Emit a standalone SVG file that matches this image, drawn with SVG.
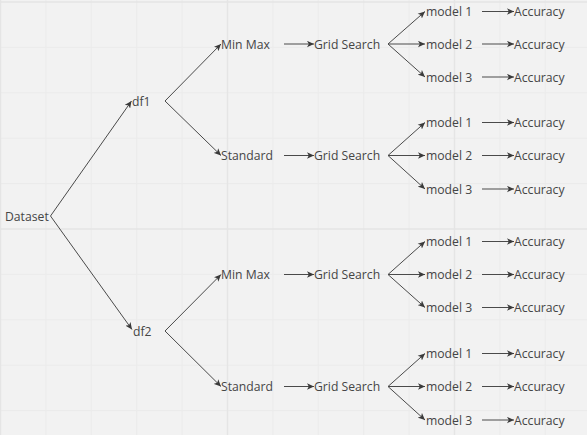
<svg xmlns="http://www.w3.org/2000/svg" width="587" height="435" viewBox="0 0 587 435">
<style>
.minor{stroke:#ebebeb;stroke-width:1}
.major{stroke:#e5e5e5;stroke-width:1.5}
text{font-family:"Open Sans","Noto Sans","Liberation Sans",sans-serif;font-size:12.2px;fill:#454545}
.c{fill:none;stroke:#4a4a4a;stroke-width:1;marker-end:url(#ah)}
</style>
<defs>
<marker id="ah" markerUnits="userSpaceOnUse" markerWidth="8" markerHeight="7" refX="7" refY="3.5" orient="auto">
<path d="M0,0.3 L7,3.5 L0,6.7 L1.8,3.5 Z" fill="#3a3a3a"/>
</marker>
</defs>
<rect width="587" height="435" fill="#f2f2f2"/>
<g id="grid">
<line class="minor" x1="45.9" y1="0" x2="45.9" y2="435"/>
<line class="minor" x1="91.3" y1="0" x2="91.3" y2="435"/>
<line class="minor" x1="136.7" y1="0" x2="136.7" y2="435"/>
<line class="minor" x1="182.1" y1="0" x2="182.1" y2="435"/>
<line class="minor" x1="272.9" y1="0" x2="272.9" y2="435"/>
<line class="minor" x1="318.3" y1="0" x2="318.3" y2="435"/>
<line class="minor" x1="363.7" y1="0" x2="363.7" y2="435"/>
<line class="minor" x1="409.1" y1="0" x2="409.1" y2="435"/>
<line class="minor" x1="499.9" y1="0" x2="499.9" y2="435"/>
<line class="minor" x1="545.3" y1="0" x2="545.3" y2="435"/>
<line class="minor" x1="0" y1="47.4" x2="587" y2="47.4"/>
<line class="minor" x1="0" y1="92.8" x2="587" y2="92.8"/>
<line class="minor" x1="0" y1="138.2" x2="587" y2="138.2"/>
<line class="minor" x1="0" y1="183.6" x2="587" y2="183.6"/>
<line class="minor" x1="0" y1="274.4" x2="587" y2="274.4"/>
<line class="minor" x1="0" y1="319.8" x2="587" y2="319.8"/>
<line class="minor" x1="0" y1="365.2" x2="587" y2="365.2"/>
<line class="minor" x1="0" y1="410.6" x2="587" y2="410.6"/>
<line class="major" x1="0.5" y1="0" x2="0.5" y2="435"/>
<line class="major" x1="227.5" y1="0" x2="227.5" y2="435"/>
<line class="major" x1="454.5" y1="0" x2="454.5" y2="435"/>
<line class="major" x1="0" y1="2" x2="587" y2="2"/>
<line class="major" x1="0" y1="229" x2="587" y2="229"/>
</g>
<g id="connectors">
<line class="c" x1="50.5" y1="216" x2="131.5" y2="101"/>
<line class="c" x1="50.5" y1="216" x2="132" y2="329.5"/>
<line class="c" x1="165" y1="101" x2="221" y2="44"/>
<line class="c" x1="165" y1="101" x2="221" y2="155.5"/>
<line class="c" x1="165" y1="331" x2="221" y2="274.5"/>
<line class="c" x1="165" y1="331" x2="221" y2="386.5"/>
<line class="c" x1="284" y1="44" x2="314" y2="44"/>
<line class="c" x1="284" y1="155.5" x2="314" y2="155.5"/>
<line class="c" x1="284" y1="274.5" x2="314" y2="274.5"/>
<line class="c" x1="284" y1="386.5" x2="314" y2="386.5"/>
<line class="c" x1="388" y1="44" x2="425" y2="11.5"/>
<line class="c" x1="388" y1="44" x2="425" y2="44"/>
<line class="c" x1="388" y1="44" x2="425" y2="77"/>
<line class="c" x1="388" y1="155.5" x2="425" y2="122.5"/>
<line class="c" x1="388" y1="155.5" x2="425" y2="155.5"/>
<line class="c" x1="388" y1="155.5" x2="425" y2="189"/>
<line class="c" x1="388" y1="274.5" x2="425" y2="241.5"/>
<line class="c" x1="388" y1="274.5" x2="425" y2="274.5"/>
<line class="c" x1="388" y1="274.5" x2="425" y2="307.5"/>
<line class="c" x1="388" y1="386.5" x2="425" y2="353.5"/>
<line class="c" x1="388" y1="386.5" x2="425" y2="386.5"/>
<line class="c" x1="388" y1="386.5" x2="425" y2="420"/>
<line class="c" x1="482" y1="11.5" x2="514" y2="11.5"/>
<line class="c" x1="482" y1="44" x2="514" y2="44"/>
<line class="c" x1="482" y1="77" x2="514" y2="77"/>
<line class="c" x1="482" y1="122.5" x2="514" y2="122.5"/>
<line class="c" x1="482" y1="155.5" x2="514" y2="155.5"/>
<line class="c" x1="482" y1="189" x2="514" y2="189"/>
<line class="c" x1="482" y1="241.5" x2="514" y2="241.5"/>
<line class="c" x1="482" y1="274.5" x2="514" y2="274.5"/>
<line class="c" x1="482" y1="307.5" x2="514" y2="307.5"/>
<line class="c" x1="482" y1="353.5" x2="514" y2="353.5"/>
<line class="c" x1="482" y1="386.5" x2="514" y2="386.5"/>
<line class="c" x1="482" y1="420" x2="514" y2="420"/>
</g>
<g id="dataset"><text x="5" y="220.5">Dataset</text></g>
<g id="df1"><text x="132" y="105.5">df1</text></g>
<g id="df2"><text x="133" y="335.5">df2</text></g>
<g id="minmax1"><text x="221" y="48.5">Min Max</text></g>
<g id="standard1"><text x="221" y="160">Standard</text></g>
<g id="minmax2"><text x="221" y="279">Min Max</text></g>
<g id="standard2"><text x="221" y="391">Standard</text></g>
<g id="grid1"><text x="314" y="48.5">Grid Search</text></g>
<g id="grid2"><text x="314" y="160">Grid Search</text></g>
<g id="grid3"><text x="314" y="279">Grid Search</text></g>
<g id="grid4"><text x="314" y="391">Grid Search</text></g>
<g id="m1a"><text x="426" y="16">model 1</text></g>
<g id="m2a"><text x="426" y="48.5">model 2</text></g>
<g id="m3a"><text x="426" y="81.5">model 3</text></g>
<g id="m1b"><text x="426" y="127">model 1</text></g>
<g id="m2b"><text x="426" y="160">model 2</text></g>
<g id="m3b"><text x="426" y="193.5">model 3</text></g>
<g id="m1c"><text x="426" y="246">model 1</text></g>
<g id="m2c"><text x="426" y="279">model 2</text></g>
<g id="m3c"><text x="426" y="312">model 3</text></g>
<g id="m1d"><text x="426" y="358">model 1</text></g>
<g id="m2d"><text x="426" y="391">model 2</text></g>
<g id="m3d"><text x="426" y="424.5">model 3</text></g>
<g id="a1a"><text x="514" y="16">Accuracy</text></g>
<g id="a2a"><text x="514" y="48.5">Accuracy</text></g>
<g id="a3a"><text x="514" y="81.5">Accuracy</text></g>
<g id="a1b"><text x="514" y="127">Accuracy</text></g>
<g id="a2b"><text x="514" y="160">Accuracy</text></g>
<g id="a3b"><text x="514" y="193.5">Accuracy</text></g>
<g id="a1c"><text x="514" y="246">Accuracy</text></g>
<g id="a2c"><text x="514" y="279">Accuracy</text></g>
<g id="a3c"><text x="514" y="312">Accuracy</text></g>
<g id="a1d"><text x="514" y="358">Accuracy</text></g>
<g id="a2d"><text x="514" y="391">Accuracy</text></g>
<g id="a3d"><text x="514" y="424.5">Accuracy</text></g>
</svg>
